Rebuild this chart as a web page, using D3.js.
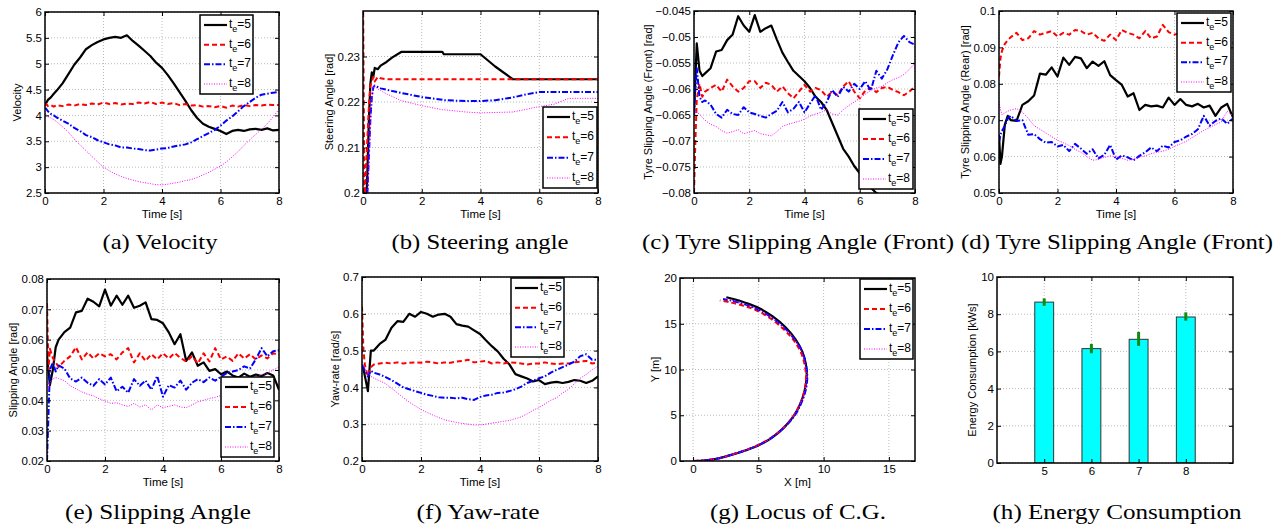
<!DOCTYPE html>
<html lang="en">
<head>
<meta charset="UTF-8">
<title>Simulation results</title>
<script src="https://d3js.org/d3.v7.min.js"></script>
<style>
  body { margin: 0; background: #fff; }
  svg text { font-family: "Liberation Sans", Arial, sans-serif; }
  .cap { font-family: "Liberation Serif", serif; font-size: 22px; }
</style>
</head>
<body>
<svg id="fig" width="1274" height="528"></svg>
<script>
// ---- data ----
const teLabels = ["5", "6", "7", "8"];

// common time grid for the noisy signals [s]
const T = [0, 0.05, 0.1, 0.2, 0.3, 0.4, 0.6, 0.8, 1.0, 1.2, 1.4, 1.6, 1.8, 2.0, 2.2, 2.4, 2.6, 2.8, 3.0, 3.2, 3.4, 3.6,
           3.8, 4.0, 4.2, 4.4, 4.6, 4.8, 5.0, 5.2, 5.4, 5.6, 5.8, 6.0, 6.2, 6.4, 6.6, 6.8, 7.0, 7.2, 7.4, 7.6, 7.8, 8.0];

// (a) velocity
const vel5 = [4.2,4.25,4.3,4.35,4.42,4.48,4.62,4.8,4.98,5.12, 5.28,5.36,5.42,5.47,5.5,5.52,5.5,5.55,5.44,5.35,
              5.25,5.15,5.02,4.92,4.78,4.62,4.45,4.28,4.1,3.95, 3.84,3.78,3.74,3.7,3.64,3.7,3.72,3.7,3.73,3.74, 3.72,3.75,3.71,3.72];
const vel6 = [4.2,4.22,4.18,4.2,4.17,4.2,4.18,4.21,4.19,4.22, 4.2,4.23,4.21,4.25,4.22,4.24,4.21,4.23,4.22,4.25,
              4.23,4.26,4.22,4.25,4.22,4.24,4.2,4.22,4.19,4.2, 4.17,4.18,4.16,4.18,4.15,4.19,4.17,4.2,4.18,4.2, 4.19,4.21,4.2,4.2];
const vel7 = [4.15,4.12,4.08,4.03,4.0,3.96,3.9,3.84,3.76,3.7, 3.62,3.58,3.52,3.48,3.44,3.42,3.38,3.38,3.36,3.35,
              3.33,3.32,3.34,3.36,3.37,3.4,3.42,3.44,3.48,3.54, 3.6,3.66,3.72,3.8,3.9,3.98,4.08,4.18,4.26,4.34, 4.4,4.42,4.44,4.45];
const vel8 = [4.05,4.02,3.98,3.95,3.92,3.88,3.78,3.68,3.54,3.43, 3.32,3.21,3.1,3.0,2.93,2.87,2.82,2.78,2.75,2.72,
              2.7,2.68,2.66,2.66,2.67,2.69,2.71,2.74,2.76,2.8, 2.85,2.9,2.96,3.02,3.1,3.2,3.3,3.42,3.53,3.63, 3.73,3.84,3.97,4.12];

// (b) steering angle, own time grid
const steerT = [0,0.05,0.1,0.15,0.2,0.25,0.3,0.35,0.4,0.5,0.6,0.8,1.0,1.3,2.0,2.7,2.75,3.5,4.0,4.5,5.1,5.5,6.0,6.5,7.0,7.5,8.0];
const steer5 = [0.19,0.19,0.195,0.205,0.216,0.224,0.2265,0.2255,0.2275,0.2272,0.228,0.2288,0.2298,0.231,0.231,0.231,
                0.2305,0.2305,0.2305,0.2278,0.225,0.225,0.225,0.225,0.225,0.225,0.225];
const steer6 = [0.245,0.198,0.205,0.212,0.219,0.2235,0.2245,0.2255,0.2245,0.2255,0.2252,0.225,0.225,0.225,0.225,0.225,
                0.225,0.225,0.225,0.225,0.225,0.225,0.225,0.225,0.225,0.225,0.225];
const steer7 = [0.19,0.19,0.195,0.2,0.208,0.216,0.221,0.2232,0.2236,0.2233,0.223,0.2227,0.2224,0.222,0.2211,0.2205,
                0.2204,0.2202,0.2202,0.2204,0.221,0.2216,0.2222,0.2222,0.2222,0.2222,0.2222];
const steer8 = [0.19,0.19,0.192,0.198,0.206,0.215,0.221,0.2235,0.2234,0.2229,0.2225,0.2218,0.2212,0.2203,0.2192,0.2183,
                0.2183,0.2178,0.2176,0.2177,0.2178,0.2183,0.219,0.2195,0.2208,0.2208,0.2208];

// (c) tyre slipping angle, front
const front5 = [-0.065,-0.058,-0.0512,-0.0565,-0.0575,-0.057,-0.056,-0.0528,-0.0525,-0.0506, -0.0495,-0.046,-0.0478,-0.049,-0.0458,-0.049,-0.0483,-0.0478,-0.0505,-0.053,
                -0.0548,-0.0565,-0.0575,-0.0585,-0.0598,-0.0615,-0.0625,-0.064,-0.0665,-0.069, -0.0715,-0.073,-0.0748,-0.0762,-0.0778,-0.079,-0.08,-0.0805,-0.081,-0.0815,
                -0.082,-0.0825,-0.083,-0.083];
const front6 = [-0.08,-0.07,-0.062,-0.059,-0.0615,-0.0605,-0.0598,-0.0592,-0.0605,-0.0582, -0.0595,-0.0605,-0.0598,-0.0585,-0.0585,-0.0598,-0.0588,-0.0592,-0.0605,-0.0595,
                -0.0608,-0.0618,-0.0605,-0.0592,-0.0605,-0.0598,-0.0602,-0.0615,-0.0605,-0.0612, -0.0595,-0.0585,-0.0605,-0.0618,-0.0603,-0.0598,-0.0606,-0.0598,-0.0596,-0.0602,
                -0.0606,-0.0612,-0.0605,-0.0595];
const front7 = [-0.065,-0.06,-0.056,-0.0615,-0.0625,-0.0622,-0.063,-0.0648,-0.0655,-0.064, -0.0648,-0.065,-0.0635,-0.0645,-0.0648,-0.0652,-0.0655,-0.0648,-0.0642,-0.0625,
                -0.0645,-0.0638,-0.0625,-0.0645,-0.0628,-0.0612,-0.064,-0.0625,-0.0602,-0.0615, -0.0596,-0.0605,-0.059,-0.06,-0.0585,-0.0603,-0.0565,-0.058,-0.0562,-0.0535,
                -0.051,-0.0498,-0.051,-0.0515];
const front8 = [-0.066,-0.064,-0.0645,-0.0648,-0.0655,-0.066,-0.0668,-0.0672,-0.068,-0.0685, -0.0682,-0.0678,-0.0686,-0.0683,-0.068,-0.0686,-0.0688,-0.069,-0.0682,-0.0672,
                -0.0668,-0.0665,-0.0662,-0.0658,-0.0652,-0.0648,-0.0645,-0.064,-0.0648,-0.065, -0.064,-0.0632,-0.0625,-0.0618,-0.061,-0.0603,-0.0598,-0.0595,-0.0588,-0.0582,
                -0.0578,-0.0572,-0.0562,-0.055];

// (d) tyre slipping angle, rear
const rear5 = [0.066,0.058,0.06,0.0688,0.0712,0.07,0.0698,0.0742,0.0752,0.0768, 0.0828,0.0825,0.0845,0.082,0.0872,0.0852,0.0874,0.087,0.0843,0.0861,
               0.0849,0.0862,0.0824,0.081,0.0797,0.0765,0.0774,0.0728,0.0742,0.0738, 0.074,0.0735,0.0762,0.0742,0.0758,0.0742,0.0738,0.0745,0.0735,0.074,
               0.0712,0.0735,0.0745,0.0708];
const rear6 = [0.082,0.087,0.089,0.091,0.092,0.0928,0.094,0.092,0.0925,0.0945, 0.0935,0.094,0.0945,0.093,0.094,0.0935,0.0948,0.0945,0.0935,0.094,
               0.0925,0.0918,0.0935,0.092,0.0948,0.094,0.0935,0.0925,0.0945,0.0925, 0.093,0.0962,0.0942,0.0935,0.094,0.0935,0.093,0.0935,0.0928,0.094,
               0.093,0.0925,0.092,0.0912];
const rear7 = [0.064,0.066,0.067,0.0685,0.0705,0.0712,0.0698,0.07,0.066,0.0662, 0.0648,0.0638,0.064,0.0628,0.0632,0.0615,0.0635,0.0622,0.0608,0.062,
               0.0595,0.0605,0.0632,0.0592,0.0603,0.0598,0.059,0.0602,0.0612,0.0625, 0.0615,0.063,0.0625,0.064,0.0645,0.0655,0.0662,0.0675,0.0712,0.0685,
               0.0698,0.0705,0.069,0.0705];
const rear8 = [0.075,0.073,0.0715,0.072,0.0725,0.0728,0.0732,0.0722,0.0705,0.0685, 0.0675,0.0665,0.0655,0.0645,0.0638,0.063,0.062,0.0612,0.06,0.059,
               0.0592,0.0598,0.0602,0.06,0.0595,0.059,0.0593,0.0598,0.0602,0.0608, 0.0612,0.0615,0.062,0.0628,0.0635,0.0642,0.0652,0.0662,0.0672,0.068,
               0.0688,0.0695,0.0725,0.0712];

// (e) slipping angle
const slip5 = [0.055,0.05,0.045,0.05,0.0575,0.06,0.0625,0.064,0.069,0.0695, 0.0735,0.0725,0.071,0.0765,0.0712,0.0745,0.0715,0.0745,0.0705,0.0712,
               0.0723,0.0668,0.0665,0.0654,0.0624,0.0585,0.0618,0.053,0.0558,0.0514, 0.0525,0.0497,0.0503,0.0486,0.0495,0.0482,0.0475,0.0488,0.0478,0.0485,
               0.048,0.049,0.0482,0.0435];
const slip6 = [0.072,0.05,0.057,0.054,0.0525,0.051,0.053,0.0545,0.0575,0.0535, 0.0558,0.0538,0.0555,0.0545,0.0552,0.0535,0.0558,0.0572,0.0525,0.0555,
               0.053,0.0552,0.0535,0.0555,0.0538,0.0556,0.054,0.0528,0.0545,0.0522, 0.0555,0.0528,0.0572,0.0535,0.0545,0.053,0.0555,0.0538,0.0552,0.0535,
               0.0548,0.0538,0.0555,0.055];
const slip7 = [0.02,0.035,0.05,0.0525,0.0495,0.0515,0.0505,0.0472,0.0462,0.0475, 0.0458,0.0448,0.047,0.0452,0.0475,0.043,0.0445,0.0425,0.047,0.0448,
               0.0465,0.0435,0.048,0.0412,0.045,0.0442,0.0465,0.0435,0.0458,0.047, 0.046,0.0475,0.0465,0.0478,0.049,0.0495,0.05,0.0512,0.0505,0.0535,
               0.0572,0.0545,0.0562,0.0565];
const slip8 = [0.046,0.044,0.046,0.047,0.0475,0.0472,0.0465,0.0448,0.0438,0.0428, 0.042,0.0415,0.0405,0.0398,0.039,0.0392,0.0385,0.038,0.039,0.0378,
               0.0385,0.0368,0.0385,0.0376,0.038,0.0385,0.0378,0.0376,0.0385,0.0395, 0.04,0.0406,0.041,0.0416,0.0425,0.0435,0.0445,0.0455,0.0465,0.0475,
               0.0485,0.049,0.05,0.051];

// (f) yaw-rate
const yaw5 = [0.46,0.45,0.43,0.39,0.5,0.5,0.518,0.53,0.562,0.58, 0.578,0.6,0.592,0.605,0.6,0.592,0.598,0.6,0.592,0.572,
              0.568,0.565,0.555,0.545,0.528,0.512,0.498,0.478,0.462,0.436, 0.43,0.424,0.416,0.42,0.409,0.413,0.415,0.412,0.415,0.42,
              0.418,0.412,0.418,0.43];
const yaw6 = [0.62,0.5,0.46,0.43,0.455,0.462,0.465,0.467,0.465,0.468, 0.465,0.467,0.468,0.467,0.47,0.468,0.465,0.468,0.467,0.47,
              0.472,0.475,0.468,0.47,0.472,0.465,0.468,0.465,0.468,0.467, 0.465,0.462,0.465,0.465,0.468,0.465,0.463,0.465,0.465,0.468,
              0.47,0.472,0.465,0.468];
const yaw7 = [0.46,0.455,0.445,0.43,0.445,0.44,0.435,0.428,0.42,0.41, 0.4,0.395,0.39,0.385,0.38,0.377,0.373,0.372,0.372,0.37,
              0.372,0.368,0.366,0.374,0.378,0.38,0.385,0.386,0.39,0.395, 0.402,0.412,0.418,0.425,0.43,0.44,0.448,0.455,0.462,0.47,
              0.485,0.49,0.475,0.475];
const yaw8 = [0.47,0.46,0.45,0.44,0.43,0.425,0.418,0.41,0.398,0.385, 0.372,0.36,0.35,0.34,0.332,0.325,0.318,0.312,0.308,0.305,
              0.302,0.3,0.298,0.298,0.3,0.303,0.305,0.308,0.31,0.315, 0.32,0.328,0.338,0.345,0.355,0.365,0.372,0.385,0.395,0.41,
              0.425,0.435,0.448,0.458];

// (g) locus of C.G. [m]
const locX5 = [0,1,2,3,4,5,6,7,7.7,8.2,8.55,8.7,8.65,8.35,7.85,7.1,6.1,5.0,4.0,3.1,2.55];
const locY5 = [0,0.08,0.3,0.7,1.15,1.7,2.5,3.7,4.9,6.2,7.7,9.2,10.5,12.0,13.3,14.6,15.8,16.75,17.3,17.7,17.9];
const locX6 = [0,1,2,3,4,5,6,7,7.7,8.2,8.55,8.65,8.55,8.25,7.7,6.9,5.9,4.8,3.8,2.8,2.05];
const locY6 = [0,0.08,0.3,0.72,1.18,1.75,2.55,3.75,4.95,6.25,7.75,9.2,10.5,11.9,13.2,14.45,15.6,16.5,17.0,17.35,17.55];
const locX7 = [0,1,2,3,4,5,6,7,7.75,8.25,8.62,8.75,8.65,8.35,7.8,7.0,6.0,4.9,3.9,3.0,2.3];
const locY7 = [0,0.08,0.3,0.7,1.15,1.72,2.52,3.7,4.9,6.2,7.7,9.2,10.5,12,13.25,14.55,15.7,16.6,17.15,17.5,17.7];
const locX8 = [0,1,2,3,4,5,6,7,7.7,8.2,8.58,8.7,8.6,8.3,7.8,7.0,6.0,4.9,3.9,3.0,2.4];
const locY8 = [0,0.08,0.3,0.7,1.15,1.72,2.52,3.7,4.9,6.2,7.7,9.2,10.5,12,13.25,14.55,15.7,16.62,17.2,17.55,17.75];

// (h) energy consumption [kWs]
const energyTe = [5, 6, 7, 8];
const energy = [8.65, 6.15, 6.65, 7.85];
const energyLo = [8.45, 5.9, 6.3, 7.65];
const energyHi = [8.85, 6.4, 7.05, 8.1];

// tick values
const ticksTime = [0, 2, 4, 6, 8];
const ticksVel = [2.5, 3, 3.5, 4, 4.5, 5, 5.5, 6];
const ticksSteer = [0.2, 0.21, 0.22, 0.23];
const ticksFront = [-0.08, -0.075, -0.07, -0.065, -0.06, -0.055, -0.05, -0.045];
const ticksRear = [0.05, 0.06, 0.07, 0.08, 0.09, 0.1];
const ticksSlip = [0.02, 0.03, 0.04, 0.05, 0.06, 0.07, 0.08];
const ticksYaw = [0.2, 0.3, 0.4, 0.5, 0.6, 0.7];
const ticksLocX = [0, 5, 10, 15];
const ticksLocY = [0, 5, 10, 15, 20];
const ticksEnergy = [0, 2, 4, 6, 8, 10];

const captions = ["(a) Velocity", "(b) Steering angle", "(c) Tyre Slipping Angle (Front)", "(d) Tyre Slipping Angle (Front)",
                  "(e) Slipping Angle", "(f) Yaw-rate", "(g) Locus of C.G.", "(h) Energy Consumption"];

// ---- styles ----
const styles = [
  { color: "#000000", w: 2.2, dash: null },
  { color: "#ff0000", w: 2, dash: "5,3" },
  { color: "#0000ff", w: 2, dash: "6,2,1.5,2" },
  { color: "#ff00ff", w: 1, dash: "1,1.5" }
];

const svg = d3.select("#fig");
const fmt = d3.format("~g");

function timeLines(times, list) {
  return function (plot, x, y) {
    list.forEach(function (vals, k) {
      const pts = times.map((t, i) => [t, vals[i]]).filter(d => d[1] != null);
      plot.append("path").datum(pts)
        .attr("d", d3.line().x(d => x(d[0])).y(d => y(d[1])))
        .attr("fill", "none")
        .attr("stroke", styles[k].color)
        .attr("stroke-width", styles[k].w)
        .attr("stroke-dasharray", styles[k].dash)
        .attr("stroke-linejoin", "round");
    });
  };
}

function pathLines(xs, ys) {
  return function (plot, x, y) {
    xs.forEach(function (xv, k) {
      const pts = xv.map((v, i) => [v, ys[k][i]]);
      plot.append("path").datum(pts)
        .attr("d", d3.line().curve(d3.curveCatmullRom).x(d => x(d[0])).y(d => y(d[1])))
        .attr("fill", "none")
        .attr("stroke", styles[k].color)
        .attr("stroke-width", styles[k].w)
        .attr("stroke-dasharray", styles[k].dash);
    });
  };
}

function bars(plot, x, y) {
  const bw = x(0.2) - x(0);
  plot.selectAll(".bar").data(energyTe).enter().append("rect")
    .attr("x", d => x(d) - bw).attr("width", 2 * bw)
    .attr("y", (d, i) => y(energy[i])).attr("height", (d, i) => y(0) - y(energy[i]))
    .attr("fill", "#00ffff").attr("stroke", "#333").attr("stroke-width", 1);
  plot.selectAll(".err").data(energyTe).enter().append("line")
    .attr("x1", d => x(d)).attr("x2", d => x(d))
    .attr("y1", (d, i) => y(energyLo[i])).attr("y2", (d, i) => y(energyHi[i]))
    .attr("stroke", "#108a10").attr("stroke-width", 3);
}

function drawLegend(g, b) {
  g.append("rect").attr("x", b[0]).attr("y", b[1]).attr("width", b[2]).attr("height", b[3])
    .attr("fill", "#fff").attr("stroke", "#000").attr("stroke-width", 1.5);
  const step = (b[3] - 20) / 3;
  teLabels.forEach(function (lab, k) {
    const ry = b[1] + 10 + k * step;
    g.append("line").attr("x1", b[0] + 4).attr("x2", b[0] + 27).attr("y1", ry).attr("y2", ry)
      .attr("stroke", styles[k].color).attr("stroke-width", styles[k].w).attr("stroke-dasharray", styles[k].dash);
    const t = g.append("text").attr("x", b[0] + 29).attr("y", ry + 3).attr("font-size", 12);
    t.append("tspan").text("t");
    t.append("tspan").attr("font-size", 9).attr("dy", 4).text("e");
    t.append("tspan").attr("dy", -4).text("=" + lab);
  });
}

function drawPanel(p) {
  const x = d3.scaleLinear().domain(p.xd).range([p.x0, p.x1]);
  const y = d3.scaleLinear().domain(p.yd).range([p.y1, p.y0]);
  const g = svg.append("g");

  const grid = g.append("g").attr("stroke", "#a8a8a8").attr("stroke-width", 0.8).attr("stroke-dasharray", "1,2");
  grid.selectAll(null).data(p.xt).enter().append("line")
    .attr("x1", d => x(d)).attr("x2", d => x(d)).attr("y1", p.y0).attr("y2", p.y1);
  grid.selectAll(null).data(p.yt).enter().append("line")
    .attr("x1", p.x0).attr("x2", p.x1).attr("y1", d => y(d)).attr("y2", d => y(d));

  const cid = "clip" + p.id;
  svg.append("clipPath").attr("id", cid).append("rect")
    .attr("x", p.x0).attr("y", p.y0).attr("width", p.x1 - p.x0).attr("height", p.y1 - p.y0);
  const plot = g.append("g").attr("clip-path", "url(#" + cid + ")");
  p.draw(plot, x, y);

  const style = a => a.call(s => s.select(".domain").remove())
    .attr("font-family", null).attr("font-size", 11.5)
    .call(s => s.selectAll("line").attr("stroke", "#000"))
    .call(s => s.selectAll("text").attr("fill", "#000"));

  g.append("g").attr("transform", "translate(0," + p.y1 + ")")
    .call(d3.axisBottom(x).tickValues(p.xt).tickSize(-4).tickPadding(4).tickFormat(fmt)).call(style);
  g.append("g").attr("transform", "translate(0," + p.y0 + ")")
    .call(d3.axisTop(x).tickValues(p.xt).tickSize(-4).tickFormat("")).call(style);
  g.append("g").attr("transform", "translate(" + p.x0 + ",0)")
    .call(d3.axisLeft(y).tickValues(p.yt).tickSize(-4).tickPadding(3).tickFormat(fmt)).call(style);
  g.append("g").attr("transform", "translate(" + p.x1 + ",0)")
    .call(d3.axisRight(y).tickValues(p.yt).tickSize(-4).tickFormat("")).call(style);

  g.append("rect").attr("x", p.x0).attr("y", p.y0).attr("width", p.x1 - p.x0).attr("height", p.y1 - p.y0)
    .attr("fill", "none").attr("stroke", "#000").attr("stroke-width", 1.5);

  if (p.xlabel) {
    g.append("text").attr("x", (p.x0 + p.x1) / 2).attr("y", p.y1 + 25)
      .attr("text-anchor", "middle").attr("font-size", 11.5).text(p.xlabel);
  }
  g.append("text").attr("transform", "translate(" + (p.ylx + 4) + "," + ((p.y0 + p.y1) / 2) + ") rotate(-90)")
    .attr("text-anchor", "middle").attr("font-size", 11).text(p.ylabel);

  if (p.legend) drawLegend(g, p.legend);
}

const panels = [
  { id: "a", x0: 45, x1: 279, y0: 12, y1: 193, xd: [0, 8], yd: [2.5, 6], xt: ticksTime, yt: ticksVel,
    xlabel: "Time [s]", ylabel: "Velocity", ylx: 17, legend: [200, 15, 53, 79],
    draw: timeLines(T, [vel5, vel6, vel7, vel8]) },
  { id: "b", x0: 363, x1: 598, y0: 11, y1: 193, xd: [0, 8], yd: [0.2, 0.24], xt: ticksTime, yt: ticksSteer,
    xlabel: "Time [s]", ylabel: "Steering Angle [rad]", ylx: 329, legend: [543, 107, 54, 81],
    draw: timeLines(steerT, [steer5, steer6, steer7, steer8]) },
  { id: "c", x0: 694, x1: 915, y0: 11, y1: 193, xd: [0, 8], yd: [-0.08, -0.045], xt: ticksTime, yt: ticksFront,
    xlabel: "Time [s]", ylabel: "Tyre Slipping Angle (Front) [rad]", ylx: 648, legend: [859, 109, 54, 80],
    draw: timeLines(T, [front5, front6, front7, front8]) },
  { id: "d", x0: 999, x1: 1233, y0: 11, y1: 193, xd: [0, 8], yd: [0.05, 0.1], xt: ticksTime, yt: ticksRear,
    xlabel: "Time [s]", ylabel: "Tyre Slipping Angle (Rear) [rad]", ylx: 965, legend: [1177, 13, 54, 79],
    draw: timeLines(T, [rear5, rear6, rear7, rear8]) },
  { id: "e", x0: 47, x1: 279, y0: 279, y1: 461, xd: [0, 8], yd: [0.02, 0.08], xt: ticksTime, yt: ticksSlip,
    xlabel: "Time [s]", ylabel: "Slipping Angle [rad]", ylx: 13, legend: [221, 377, 53, 80],
    draw: timeLines(T, [slip5, slip6, slip7, slip8]) },
  { id: "f", x0: 362, x1: 598, y0: 277, y1: 461, xd: [0, 8], yd: [0.2, 0.7], xt: ticksTime, yt: ticksYaw,
    xlabel: "Time [s]", ylabel: "Yaw-rate [rad/s]", ylx: 335, legend: [511, 278, 53, 79],
    draw: timeLines(T, [yaw5, yaw6, yaw7, yaw8]) },
  { id: "g", x0: 680, x1: 915, y0: 278, y1: 461, xd: [-1, 17], yd: [0, 20], xt: ticksLocX, yt: ticksLocY,
    xlabel: "X [m]", ylabel: "Y [m]", ylx: 655, legend: [860, 279, 53, 80],
    draw: pathLines([locX5, locX6, locX7, locX8], [locY5, locY6, locY7, locY8]) },
  { id: "h", x0: 997, x1: 1233, y0: 277, y1: 463, xd: [4, 9], xt: energyTe, yd: [0, 10], yt: ticksEnergy,
    xlabel: null, ylabel: "Energy Consumption [kWs]", ylx: 972, legend: null,
    draw: bars }
];

panels.forEach(drawPanel);

// captions under each panel
const capLayout = [
  [160, 249, 115], [480, 249, 177], [798, 249, 312], [1117, 249, 312],
  [158, 519, 186], [478, 519, 123], [798, 519, 176], [1117, 519, 249]
];
captions.forEach(function (c, i) {
  svg.append("text").attr("class", "cap")
    .attr("x", capLayout[i][0]).attr("y", capLayout[i][1])
    .attr("text-anchor", "middle")
    .attr("textLength", capLayout[i][2]).attr("lengthAdjust", "spacingAndGlyphs")
    .text(c);
});
</script>
</body>
</html>
